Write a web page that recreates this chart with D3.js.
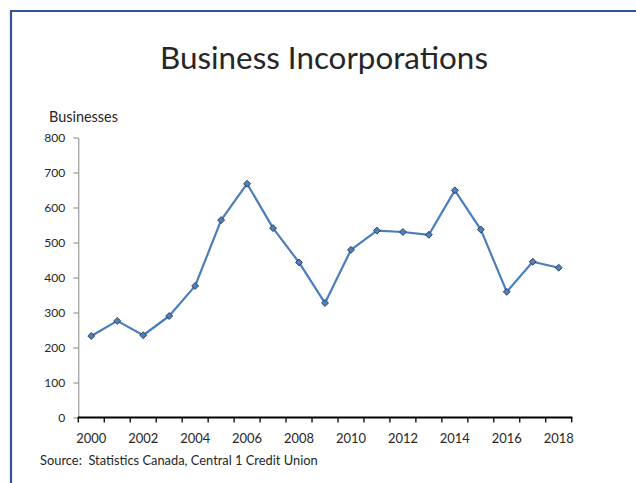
<!DOCTYPE html>
<html>
<head>
<meta charset="utf-8">
<script src="https://cdn.jsdelivr.net/npm/d3@7"></script>
<style>
  html, body { margin: 0; padding: 0; background: #fff; }
  svg { display: block; }
  text { font-family: Lato, "Open Sans", sans-serif; fill: #262626; white-space: pre; }
</style>
</head>
<body>
<svg id="chart" width="636" height="483"></svg>
<script>
// Business incorporations per year
const years = [2000, 2001, 2002, 2003, 2004, 2005, 2006, 2007, 2008, 2009,
               2010, 2011, 2012, 2013, 2014, 2015, 2016, 2017, 2018];
const incorporations = [233, 276, 235, 290, 376, 564, 668, 541, 443, 327,
                        479, 534, 530, 522, 649, 537, 359, 445, 428];
const yTicks = [0, 100, 200, 300, 400, 500, 600, 700, 800];
const xLabelYears = [2000, 2002, 2004, 2006, 2008, 2010, 2012, 2014, 2016, 2018];

const titleText = "Business Incorporations";
const yAxisTitle = "Businesses";
const sourceText = "Source:  Statistics Canada, Central 1 Credit Union";

const svg = d3.select("#chart");

// Font size that makes one text node span the given width
function sizeFor(node, target) {
  const fs = parseFloat(d3.select(node).attr("font-size"));
  const w = node.getComputedTextLength();
  return w > 0 ? +(fs * target / w).toFixed(2) : fs;
}
function fitWidth(sel, target) {
  sel.attr("font-size", sizeFor(sel.node(), target));
  return sel;
}

// Frame lines along the top and left edge
const frameColor = "#2F5597";
svg.append("line").attr("x1", 11).attr("x2", 636).attr("y1", 11).attr("y2", 11)
  .attr("stroke", frameColor).attr("stroke-width", 2.2);
svg.append("line").attr("x1", 11).attr("x2", 11).attr("y1", 10).attr("y2", 483)
  .attr("stroke", frameColor).attr("stroke-width", 2.2);

// Plot area
const plotLeft = 78.3, plotRight = 571.7, plotTop = 137.5, plotBottom = 417.5;

const x = d3.scaleBand().domain(years).range([plotLeft, plotRight]).padding(0);
const y = d3.scaleLinear().domain([0, 800]).range([plotBottom, plotTop]);

// Title
const title = svg.append("text")
  .attr("x", 324).attr("y", 69)
  .attr("text-anchor", "middle")
  .attr("font-size", 28)
  .text(titleText);
fitWidth(title, 328);

// Y axis title
const yt = svg.append("text")
  .attr("x", 49).attr("y", 122)
  .attr("font-size", 14)
  .text(yAxisTitle);
fitWidth(yt, 69);

// Y axis (grey, outer ticks on the left)
const yAxis = svg.append("g")
  .attr("transform", `translate(${plotLeft},0)`)
  .call(d3.axisLeft(y).tickValues(yTicks).tickSize(5).tickSizeOuter(0).tickPadding(8));
yAxis.select(".domain").attr("stroke", "#868686").attr("stroke-width", 1);
yAxis.selectAll(".tick line").attr("stroke", "#868686");
const yLabels = yAxis.selectAll(".tick text")
  .attr("font-family", "Lato, 'Open Sans', sans-serif")
  .attr("font-size", 12).attr("fill", "#262626");
// size the tick labels so that "800" is about 21px wide
const yFs = sizeFor(yLabels.filter(d => d === 800).node(), 21);
yLabels.attr("font-size", yFs).attr("dy", "0.36em");

// X axis (black, tick marks at category boundaries)
const boundaries = years.map(v => x(v)).concat([plotRight]);
const xg = svg.append("g");
xg.selectAll("line.tick")
  .data(boundaries)
  .join("line")
  .attr("class", "tick")
  .attr("x1", d => d).attr("x2", d => d)
  .attr("y1", plotBottom).attr("y2", plotBottom + 5)
  .attr("stroke", "#000").attr("stroke-width", 1.3);
xg.append("line")
  .attr("x1", plotLeft - 0.5).attr("x2", plotRight + 0.7)
  .attr("y1", plotBottom).attr("y2", plotBottom)
  .attr("stroke", "#000").attr("stroke-width", 2);
const xLabels = xg.selectAll("text")
  .data(xLabelYears)
  .join("text")
  .attr("x", d => x(d) + x.bandwidth() / 2)
  .attr("y", 443)
  .attr("text-anchor", "middle")
  .attr("font-size", 13)
  .text(d => d);
const xFs = sizeFor(xLabels.node(), 30);
xLabels.attr("font-size", xFs);

// Series line
const pts = years.map((yr, i) => ({ yr, v: incorporations[i] }));
const line = d3.line()
  .x(d => x(d.yr) + x.bandwidth() / 2)
  .y(d => y(d.v));
svg.append("path")
  .datum(pts)
  .attr("d", line)
  .attr("fill", "none")
  .attr("stroke", "#4A7EBB")
  .attr("stroke-width", 2.2)
  .attr("stroke-linejoin", "round");

// Diamond markers
const diamond = d3.symbol().type(d3.symbolSquare).size(24);
svg.append("g")
  .selectAll("path")
  .data(pts)
  .join("path")
  .attr("d", diamond)
  .attr("transform", d => `translate(${x(d.yr) + x.bandwidth() / 2},${y(d.v)}) rotate(45)`)
  .attr("fill", "#4F81BD")
  .attr("stroke", "#1F2F45")
  .attr("stroke-width", 0.8);

// Source note
const src = svg.append("text")
  .attr("x", 40).attr("y", 465)
  .attr("font-size", 12)
  .text(sourceText);
fitWidth(src, 278);
</script>
</body>
</html>
